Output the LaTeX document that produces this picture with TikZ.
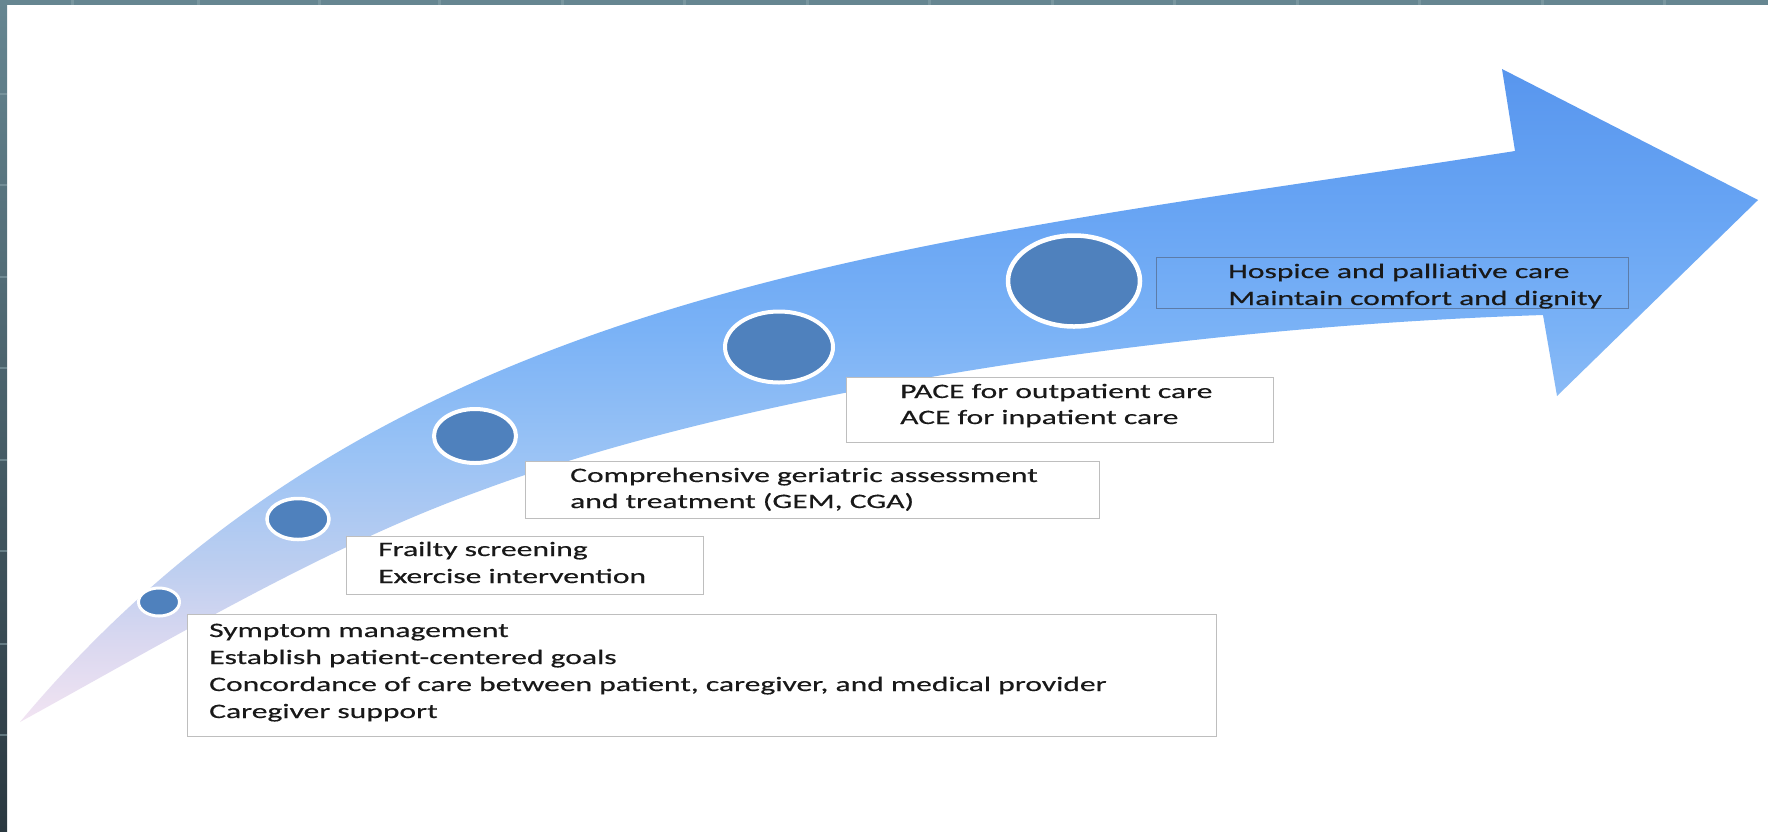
\documentclass[tikz,border=0pt]{standalone}
\usepackage{fontspec}
\newfontfamily\boxfont{Carlito}[FakeStretch=1.54,FakeBold=0.45]
\usetikzlibrary{shapes.geometric}

% palette
\definecolor{frameTop}{RGB}{102,134,145}
\definecolor{frameBottom}{RGB}{42,56,64}
\definecolor{frameTick}{RGB}{138,164,172}
\definecolor{dotblue}{RGB}{79,129,189}
\definecolor{boxgrey}{RGB}{190,190,190}
\definecolor{boxblue}{RGB}{92,124,168}
\definecolor{inkgrey}{RGB}{25,25,25}
\definecolor{fadeA}{RGB}{242,228,242}
\definecolor{fadeB}{RGB}{218,216,240}
\definecolor{fadeC}{RGB}{188,206,240}
\definecolor{fadeD}{RGB}{152,194,245}
\definecolor{fadeE}{RGB}{122,178,246}
\definecolor{fadeF}{RGB}{102,163,243}
\definecolor{fadeG}{RGB}{88,150,238}

% vertical fade of the curved arrow (25bp = bottom of path, 75bp = top)
\pgfdeclareverticalshading{bandfade}{100bp}{%
  color(0bp)=(fadeA); color(25bp)=(fadeA); color(31bp)=(fadeB);
  color(37bp)=(fadeC); color(46bp)=(fadeD); color(55bp)=(fadeE);
  color(65bp)=(fadeF); color(75bp)=(fadeG); color(100bp)=(fadeG)}

\tikzset{
  stagebox/.style={draw=boxgrey, line width=1.2pt, fill=white, inner sep=0pt,
    anchor=north west},
  stagedot/.style={ellipse, fill=dotblue, draw=white, inner sep=0pt},
  itemtext/.style={font=\boxfont\fontsize{20.5}{27}\selectfont, text=inkgrey,
    inner sep=0pt, anchor=base west},
}

\begin{document}
\begin{tikzpicture}[x=1pt,y=-1pt]
\useasboundingbox (0,0) rectangle (1768,831);
\fill[white] (0,0) rectangle (1768,831);

% slide frame with its faint grid ticks
\shade[top color=frameTop, bottom color=frameBottom] (0,0) rectangle (7,831);
\fill[frameTop] (0,0) rectangle (1768,5);
\foreach \ty in {93,184,276,367,459,550,643,734}
  \fill[frameTick, opacity=0.55] (0,\ty) rectangle (7,\ty+2);
\foreach \tx in {71,197,318,438,561,683,806,928,1051,1173,1296,1418,1541,1663}
  \fill[frameTick, opacity=0.55] (\tx,0) rectangle (\tx+3,5);

% curved arrow
\shade[shading=bandfade]
  (20,722) .. controls (390,280) and (915,245) .. (1515,151)
  -- (1502,69) -- (1758,200) -- (1557,396) -- (1543,315)
  .. controls (1143,328) and (727,398) .. (477,492)
  .. controls (327,546) and (170,639.5) .. (20,722)
  -- cycle;

% stage boxes
\node[stagebox, fill=none, draw=boxblue, minimum width=472pt, minimum height=51pt] (boxE) at (1156,257) {};
\node[stagebox, minimum width=427pt, minimum height=65pt] (boxD) at (846,377) {};
\node[stagebox, minimum width=574pt, minimum height=57pt] (boxC) at (525,461) {};
\node[stagebox, minimum width=357pt, minimum height=58pt] (boxB) at (346,536) {};
\node[stagebox, minimum width=1029pt, minimum height=122pt] (boxA) at (187,614) {};

% stage markers along the arrow
\node[stagedot, line width=3pt, minimum width=41pt, minimum height=28pt] (dot1) at (159,602) {};
\node[stagedot, line width=3.5pt, minimum width=62pt, minimum height=41pt] (dot2) at (298,519) {};
\node[stagedot, line width=4pt, minimum width=82pt, minimum height=54pt] (dot3) at (475,436) {};
\node[stagedot, line width=4pt, minimum width=108pt, minimum height=71pt] (dot4) at (779,347) {};
\node[stagedot, line width=4.5pt, minimum width=132pt, minimum height=91pt] (dot5) at (1074,281) {};

% box texts
\node[itemtext] (a1) at (209,637) {Symptom management};
\node[itemtext] (a2) at (209,664) {Establish patient-centered goals};
\node[itemtext] (a3) at (209,691) {Concordance of care between patient, caregiver, and medical provider};
\node[itemtext] (a4) at (209,718) {Caregiver support};

\node[itemtext] (b1) at (378,556) {Frailty screening};
\node[itemtext] (b2) at (378,583) {Exercise intervention};

\node[itemtext] (c1) at (570,482) {Comprehensive geriatric assessment};
\node[itemtext] (c2) at (570,508) {and treatment (GEM, CGA)};

\node[itemtext] (d1) at (900,398) {PACE for outpatient care};
\node[itemtext] (d2) at (900,424) {ACE for inpatient care};

\node[itemtext] (e1) at (1228,278) {Hospice and palliative care};
\node[itemtext] (e2) at (1228,305) {Maintain comfort and dignity};
\end{tikzpicture}
\end{document}
